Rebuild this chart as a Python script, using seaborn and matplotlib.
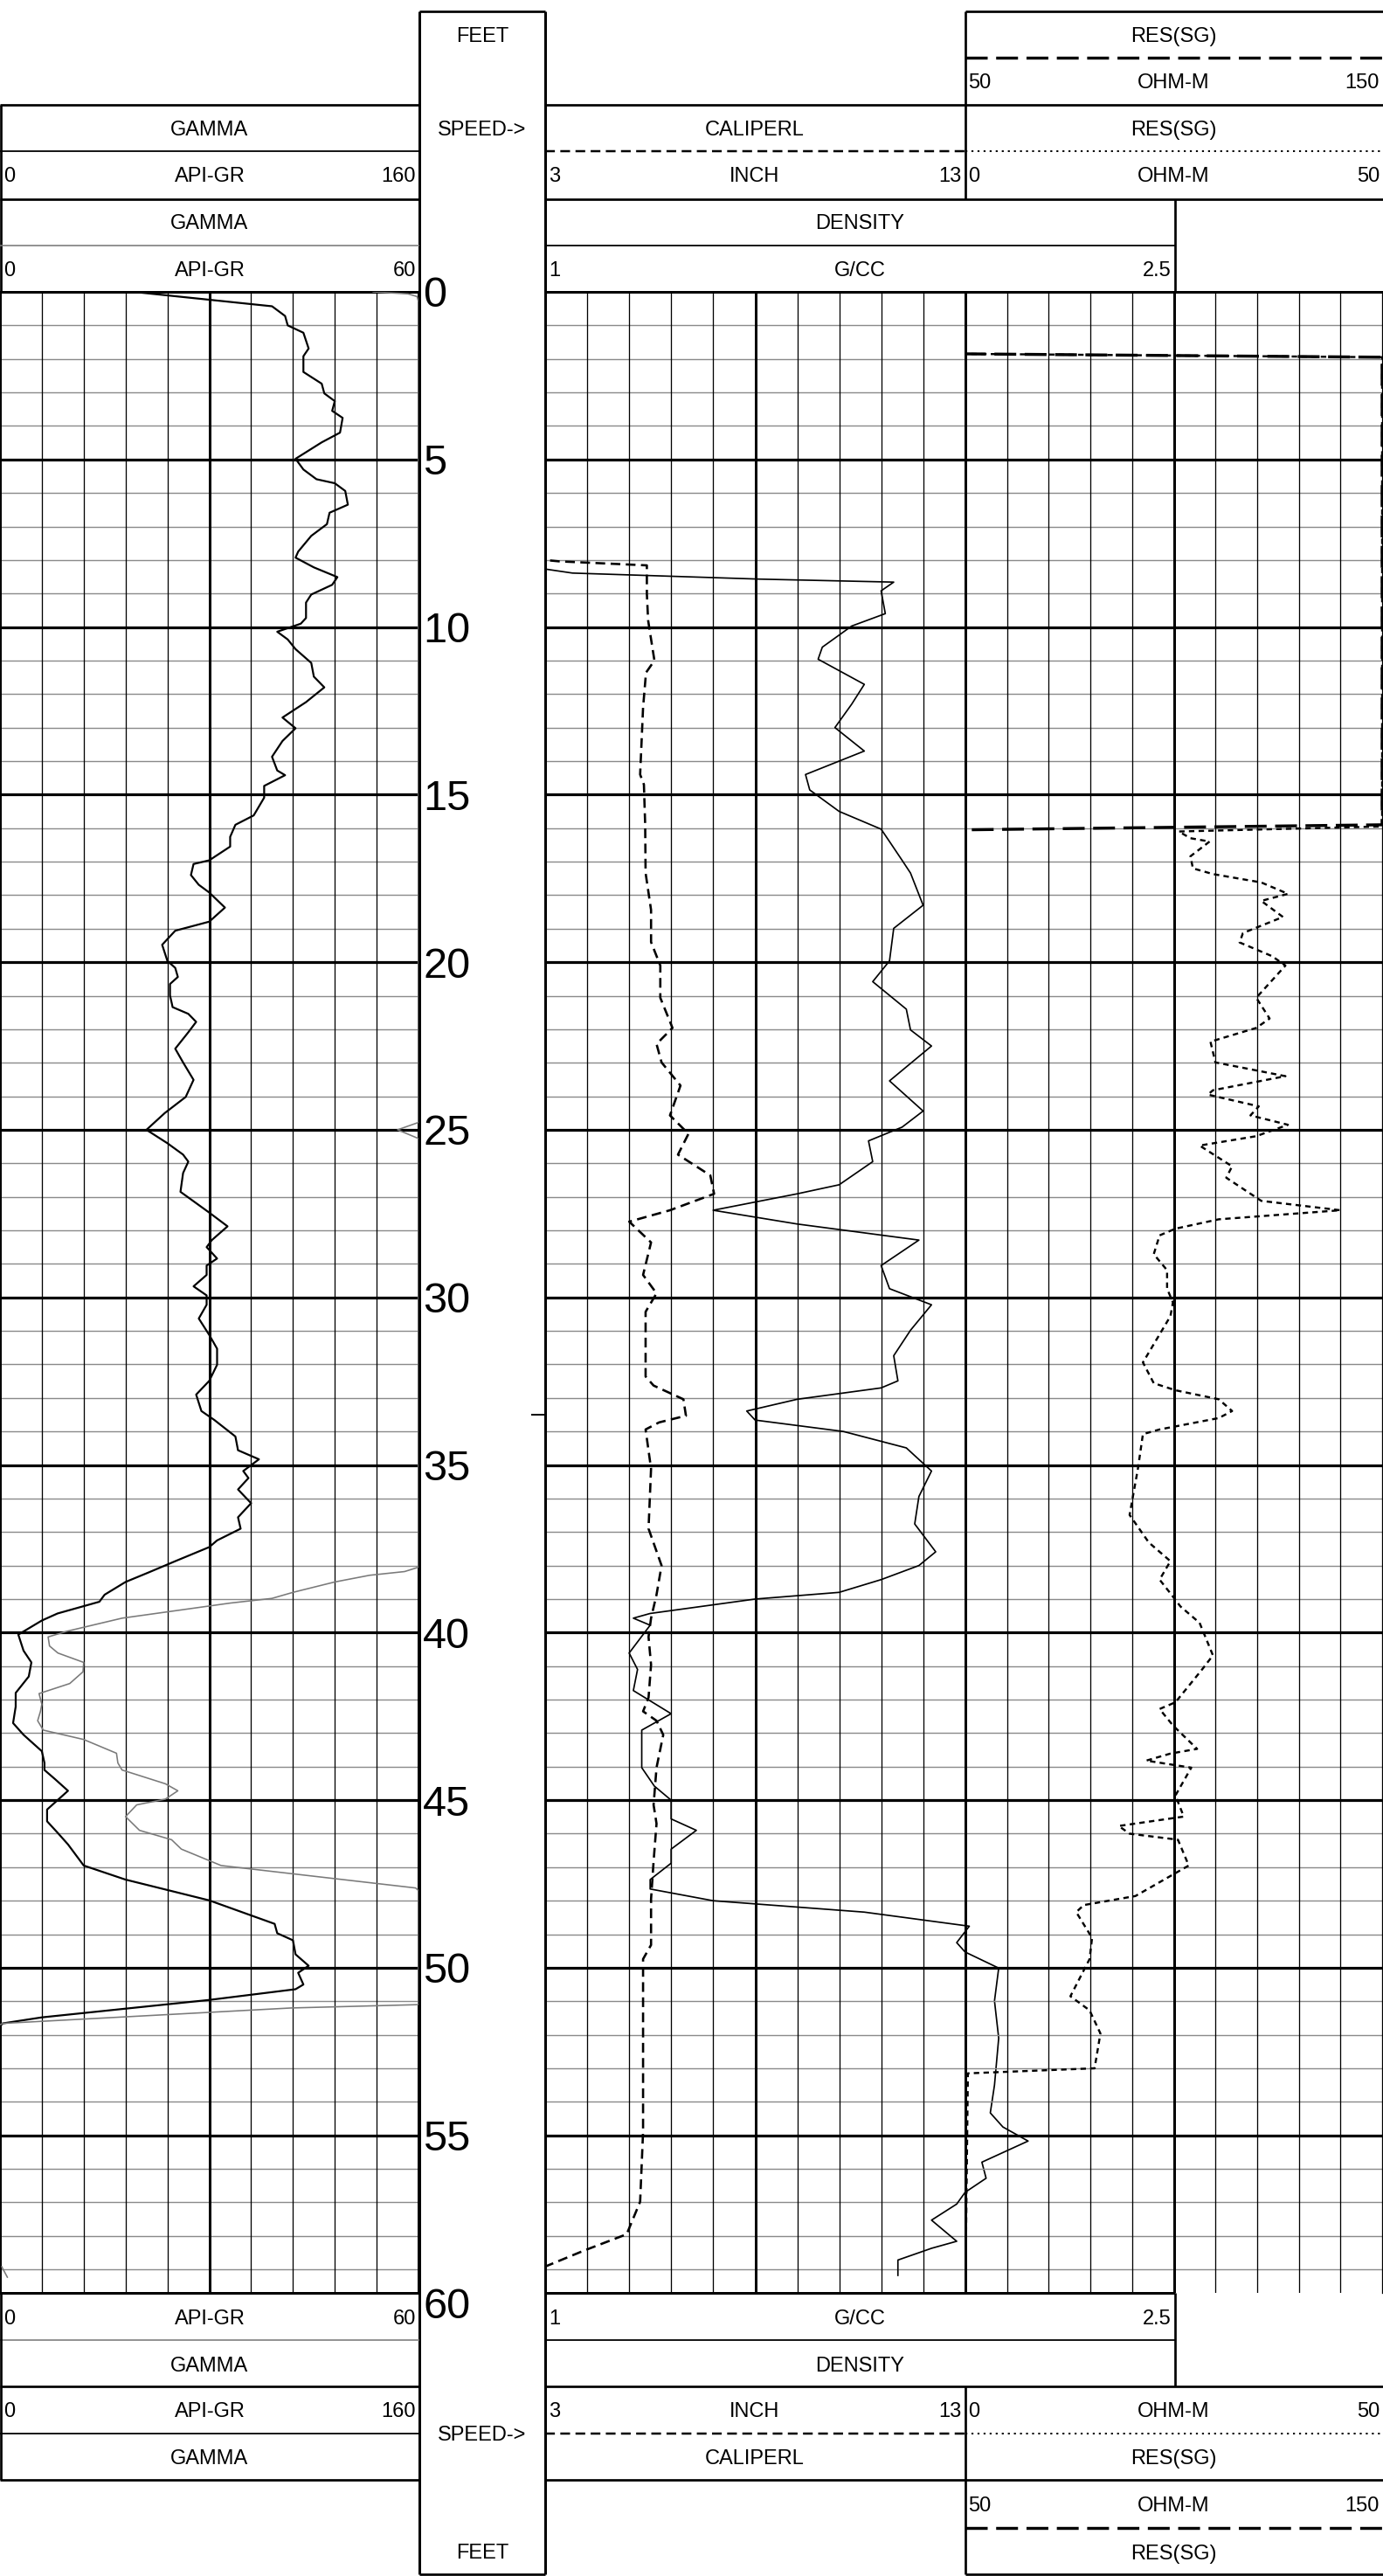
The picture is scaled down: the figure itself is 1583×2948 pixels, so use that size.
import numpy as np
import pandas as pd
import matplotlib
matplotlib.use("Agg")
import matplotlib.pyplot as plt
import matplotlib.transforms as mtransforms
import seaborn as sns

# ------------------------------------------------------------------ data
# depth grid labels
depth_labels = [0, 5, 10, 15, 20, 25, 30, 35, 40, 45, 50, 55, 60]
marker_depth = [33.5]

# GAMMA (API-GR, 0-160 scale), black solid
gr_depth = [0.0, 0.43, 0.72, 1.0, 1.22, 1.69, 1.92, 2.39, 2.74, 3.03, 3.26, 3.55, 3.76, 4.2, 4.49,
            4.98, 5.3, 5.59, 5.71, 5.94, 6.35, 6.59, 6.93, 7.28, 7.75, 7.93, 8.22, 8.51, 8.74, 9.03,
            9.27, 9.73, 9.9, 10.14, 10.37, 10.66, 11.07, 11.48, 11.8, 12.24, 12.7, 13.02, 13.4, 13.87,
            14.28, 14.42, 14.74, 15.09, 15.62, 15.9, 16.26, 16.55, 16.96, 17.07, 17.4, 17.69, 17.92,
            18.37, 18.79, 19.06, 19.48, 19.96, 20.17, 20.44, 20.65, 20.99, 21.34, 21.54, 21.78, 22.09,
            22.58, 22.99, 23.51, 24.02, 24.5, 25.0, 25.4, 25.74, 25.95, 26.29, 26.85, 27.47, 27.88,
            28.29, 28.5, 28.84, 29.05, 29.33, 29.67, 29.94, 30.22, 30.63, 31.12, 31.53, 32.01, 32.49,
            32.9, 33.39, 33.66, 34.15, 34.56, 34.83, 35.18, 35.39, 35.73, 36.14, 36.56, 36.9, 37.25,
            37.45, 37.87, 38.2, 38.49, 38.87, 39.08, 39.43, 39.64, 40.06, 40.54, 40.89, 41.31, 41.8,
            42.21, 42.7, 43.05, 43.54, 43.89, 44.1, 44.37, 44.72, 45.0, 45.28, 45.63, 45.97, 46.32,
            46.95, 47.37, 47.99, 48.69, 48.97, 49.18, 49.6, 49.94, 50.15, 50.5, 50.64, 50.96, 51.48,
            51.66, 51.75]
gr_api = [51, 104, 109, 110, 116, 118, 116, 116, 123, 124, 128, 127, 131, 130, 123,
          113, 116, 121, 128, 132, 133, 126, 125, 119, 114, 113, 120, 129, 127, 119,
          117, 117, 115, 106, 110, 113, 119, 120, 124, 117, 108, 113, 108, 104,
          106, 109, 101, 101, 97, 90, 88, 88, 80, 74, 73, 76, 80,
          86, 80, 67, 62, 64, 67, 68, 65, 65, 66, 72, 75, 72,
          67, 70, 74, 71, 63, 56, 64, 70, 72, 70, 69, 80, 87,
          81, 79, 83, 79, 79, 74, 79, 79, 76, 80, 83, 83, 80,
          75, 77, 82, 90, 91, 99, 93, 95, 91, 96, 91, 92, 83,
          80, 67, 57, 48, 40, 38, 22, 16, 7, 9, 12, 11, 6,
          6, 5, 9, 16, 17, 17, 21, 26, 22, 18, 18, 22, 26,
          32, 48, 80, 105, 106, 112, 113, 118, 114, 116, 113, 80, 16,
          1, 0]

# GAMMA (API-GR, 0-60 scale), grey solid (pinned to 60 where off scale)
gr2_depth = [0.0, 0.06, 0.14, 0.3, 24.78, 25.0, 25.26, 25.4, 38.05, 38.18, 38.29, 38.49, 38.8, 38.98,
             39.12, 39.57, 39.96, 40.13, 40.4, 40.61, 40.89, 41.17, 41.52, 41.82, 42.14, 42.35, 42.63,
             42.91, 43.19, 43.6, 43.89, 44.1, 44.51, 44.72, 44.97, 45.14, 45.49, 45.9, 46.18, 46.46,
             46.95, 47.62, 47.7, 51.1, 51.2, 51.66, 51.7,
             58.9, 59.25]
gr2_api = [53.4, 58.5, 59.8, 60, 60, 57, 60, 60, 60, 58, 53, 48, 42, 39,
           33, 17.5, 9.6, 6.9, 7.1, 8.3, 12, 11.9, 10, 5.6, 6, 5.8, 5.4,
           6.2, 12, 16.7, 16.9, 17.5, 23.7, 25.5, 23.7, 19.6, 18, 20, 24.6, 26,
           31.7, 59.6, 60, 60, 41.7, 0.4, 0,
           0.2, 1.1]
gr2_seg = [0] * 47 + [1, 1]

# CALIPERL (INCH, 3-13), dashed
cal_depth = [0.0, 8.0, 8.04, 8.16, 9.0, 9.8, 11.0, 11.36, 12.4, 14.4, 14.7, 15.9, 17.34, 18.44, 19.4,
             20.1, 21.06, 21.96, 22.44, 22.99, 23.68, 24.57, 25.12, 25.74, 26.36, 26.91, 27.4, 27.74,
             28.36, 29.33, 29.88, 30.43, 32.36, 32.63, 33.04, 33.53, 33.73, 33.94, 35.11, 36.9, 38.0,
             38.87, 39.57, 40.13, 40.96, 41.94, 42.35, 42.63, 43.05, 44.03, 45.14, 45.7, 46.83, 47.95,
             49.32, 49.74, 54.89, 56.98, 57.95, 58.44, 58.9, 59.2]
cal_in = [3.0, 3.0, 3.33, 5.42, 5.42, 5.45, 5.6, 5.4, 5.33, 5.26, 5.35, 5.38, 5.39, 5.52, 5.52,
          5.74, 5.74, 6.03, 5.65, 5.77, 6.22, 5.97, 6.41, 6.16, 6.93, 7.02, 5.97, 5.0,
          5.52, 5.33, 5.65, 5.39, 5.39, 5.58, 6.29, 6.35, 5.71, 5.39, 5.52, 5.46, 5.77,
          5.65, 5.52, 5.46, 5.52, 5.46, 5.33, 5.65, 5.81, 5.65, 5.58, 5.65, 5.58, 5.52,
          5.52, 5.33, 5.33, 5.26, 4.94, 3.92, 3.03, 2.6]

# DENSITY (G/CC, 1-2.5), solid
den_depth = [0.0, 8.27, 8.39, 8.57, 8.66, 8.92, 9.6, 9.97, 10.6, 10.96, 11.71, 12.3, 13.0, 13.7, 14.4,
             14.86, 15.5, 16.03, 16.4, 16.96, 17.34, 18.3, 18.99, 19.96, 20.58, 21.4, 22.02, 22.5,
             23.54, 24.44, 24.92, 25.33, 25.95, 26.64, 26.91, 27.4, 27.81, 28.29, 29.05, 29.74, 30.22,
             30.98, 31.74, 32.49, 32.7, 33.04, 33.39, 33.66, 34.0, 34.49, 35.18, 35.94, 36.76, 37.59,
             38.0, 38.42, 38.8, 39.0, 39.43, 39.57, 39.78, 40.61, 41.1, 41.73, 42.42, 42.91, 44.03,
             44.58, 45.0, 45.56, 45.9, 46.46, 46.88, 47.37, 47.65, 48.0, 48.34, 48.76, 49.25, 49.53,
             50.01, 50.99, 52.1, 53.5, 54.33, 54.75, 55.17, 55.8, 56.28, 56.7, 57.05, 57.53, 58.16,
             58.37, 58.72, 59.2]
den_gcc = [1.0, 1.0, 1.065, 1.51, 1.83, 1.80, 1.81, 1.73, 1.66, 1.65, 1.76, 1.73, 1.69, 1.76, 1.62,
           1.63, 1.70, 1.80, 1.82, 1.85, 1.87, 1.90, 1.83, 1.82, 1.78, 1.86, 1.87, 1.92,
           1.82, 1.90, 1.85, 1.77, 1.78, 1.70, 1.60, 1.40, 1.60, 1.89, 1.80, 1.82, 1.92,
           1.87, 1.83, 1.84, 1.80, 1.60, 1.48, 1.50, 1.71, 1.86, 1.92, 1.89, 1.88, 1.93,
           1.89, 1.80, 1.70, 1.50, 1.25, 1.21, 1.25, 1.20, 1.22, 1.21, 1.30, 1.23, 1.23,
           1.26, 1.30, 1.30, 1.36, 1.30, 1.30, 1.25, 1.25, 1.40, 1.76, 2.01, 1.98, 2.00,
           2.08, 2.07, 2.08, 2.07, 2.06, 2.09, 2.15, 2.04, 2.05, 2.00, 1.98, 1.92, 1.98,
           1.92, 1.84, 1.84]

# RES(SG) (OHM-M, 0-50), dotted
res_depth = [0.0, 1.85, 1.95, 15.95, 16.1, 16.3, 16.4, 16.84, 17.2, 17.37, 17.62, 17.96, 18.17, 18.65,
             19.13, 19.41, 19.82, 20.1, 21.06, 21.68, 21.96, 22.37, 22.99, 23.13, 23.4, 23.82, 23.95,
             24.3, 24.57, 24.85, 25.19, 25.47, 26.09, 26.43, 27.12, 27.4, 27.67, 27.95, 28.15, 28.71,
             29.19, 29.74, 30.15, 30.56, 31.94, 32.56, 32.77, 33.04, 33.39, 33.6, 33.94, 34.08, 35.11,
             36.49, 37.31, 37.87, 38.42, 38.83, 39.22, 39.71, 40.68, 41.1, 42.08, 42.28, 42.77, 43.47,
             43.61, 43.82, 44.03, 44.86, 45.49, 45.77, 46.0, 46.18, 46.95, 47.86, 48.13, 48.34, 49.11,
             49.74, 50.85, 51.27, 51.96, 53.0, 53.15, 59.7]
res_ohm = [0, 0, 50, 50, 25.6, 27, 29.3, 27, 27.3, 29.7, 35.5, 38.7, 35.5, 38.1,
           33.3, 32.9, 36.8, 38.4, 34.9, 36.5, 34.9, 29.4, 30.0, 32.9, 38.4, 29.7, 29.1,
           35.2, 34.2, 38.7, 34.9, 28.1, 32.0, 31.3, 35.5, 45.0, 30.4, 25.2, 23.3, 22.6,
           24.2, 24.2, 24.9, 24.6, 21.3, 22.6, 25.2, 30.4, 32.0, 30.4, 23.3, 21.3, 20.7,
           19.7, 22.0, 24.6, 23.3, 24.6, 25.8, 28.1, 29.7, 28.4, 25.2, 23.3, 24.9, 27.8,
           24.6, 21.7, 27.1, 25.2, 26.2, 18.4, 19.7, 25.5, 26.8, 20.4, 14.2, 13.3, 15.2,
           14.9, 12.6, 14.9, 16.2, 15.5, 0.3, 0]

# RES(SG) (OHM-M, 50-150), long dashed (pinned at the scale ends)
res2_depth = [0.0, 1.85, 1.95, 15.9, 16.05, 59.7]
res2_ohm = [50, 50, 150, 150, 50, 50]

# ------------------------------------------------------------------ style
sns.set_theme(style="white")
plt.rcParams["font.family"] = ["Liberation Sans", "DejaVu Sans"]
plt.rcParams["lines.scale_dashes"] = False
plt.rcParams["lines.solid_capstyle"] = "butt"
plt.rcParams["lines.dash_capstyle"] = "butt"

W, H, DPI = 1583, 2948, 100
PX = 72.0 / DPI
GRID_TOP, GRID_BOT = 334, 2624
DMAX = 59.7
CAP = 0.716  # cap/digit height as fraction of em (Liberation Sans)

fig = plt.figure(figsize=(W / DPI, H / DPI), dpi=DPI)
fig.patch.set_facecolor("white")


def px_axes(x0, x1, y0=GRID_TOP, y1=GRID_BOT):
    ax = fig.add_axes([x0 / W, 1 - y1 / H, (x1 - x0) / W, (y1 - y0) / H])
    ax.set_facecolor("none")
    return ax


def finish(ax, xlim):
    ax.set_xlim(*xlim)
    ax.set_ylim(DMAX, 0)
    ax.set_xticks([])
    ax.set_yticks([])
    ax.set_xlabel("")
    ax.set_ylabel("")


def grid_track(ax, xlim, thin, heavy):
    for d in range(1, 60):
        if d % 5 == 0:
            ax.axhline(d, color="black", lw=3.2 * PX, zorder=1)
        else:
            ax.axhline(d, color="#8a8a8a", lw=1.4 * PX, zorder=1)
    for v in thin:
        ax.axvline(v, color="black", lw=1.3 * PX, zorder=1.1)
    for v in heavy:
        ax.axvline(v, color="black", lw=3.0 * PX, zorder=1.1)
    for s in ax.spines.values():
        s.set_visible(True)
        s.set_color("black")
        s.set_linewidth(3.0 * PX)
    finish(ax, xlim)


def curve(ax, depth, vals, color, lw, dashes=None, units=None, xlim=None):
    df = pd.DataFrame({"depth": depth, "val": vals,
                       "seg": units if units is not None else [0] * len(depth)})
    n0 = len(ax.lines)
    sns.lineplot(data=df, x="val", y="depth", units="seg", estimator=None, sort=False,
                 ax=ax, color=color, lw=lw * PX, legend=False, zorder=3)
    for ln in ax.lines[n0:]:
        if dashes is not None:
            ln.set_dashes(dashes)
    finish(ax, xlim)


def overlay_axes(x0, x1):
    ax = px_axes(x0, x1)
    ax.axis("off")
    return ax


# ---- gamma track
ax_gr = px_axes(0, 479)
grid_track(ax_gr, (0, 160), [16, 32, 48, 64, 96, 112, 128, 144], [80])
ax_gr2 = overlay_axes(0, 479)
curve(ax_gr2, gr2_depth, gr2_api, "#7a7a7a", 1.6, units=gr2_seg, xlim=(0, 60))
curve(ax_gr, gr_depth, gr_api, "black", 2.2, xlim=(0, 160))

# ---- caliper / density track
ax_cal = px_axes(624, 1105)
grid_track(ax_cal, (3, 13), [4, 5, 6, 7, 9, 10, 11, 12], [8])
curve(ax_cal, cal_depth, cal_in, "black", 2.6, dashes=(8, 4.5), xlim=(3, 13))
ax_den = overlay_axes(624, 1345)
curve(ax_den, den_depth, den_gcc, "black", 1.7, xlim=(1, 2.5))

# ---- resistivity track
ax_res = px_axes(1105, 1582)
grid_track(ax_res, (0, 50), [5, 10, 15, 20, 30, 35, 40, 45], [25])
ax_res.spines["bottom"].set_visible(False)
ax_res.spines["right"].set_linewidth(1.3 * PX)
curve(ax_res, res_depth, res_ohm, "black", 2.4, dashes=(4.5, 3.5), xlim=(0, 50))
ax_res2 = overlay_axes(1105, 1582)
curve(ax_res2, res2_depth, res2_ohm, "black", 3.4, dashes=(18, 7), xlim=(50, 150))

# ---- depth track
DEP_FS = 35
ax_dep = overlay_axes(479, 624)
ax_dep.set_xlim(0, 1)
ax_dep.set_ylim(DMAX, 0)
dep_tr = mtransforms.offset_copy(ax_dep.transData, fig=fig,
                                 y=-CAP * DEP_FS / 72.0 * DPI / 2.0, units="dots")
for d in depth_labels:
    ax_dep.text(0.035, d, str(d), ha="left", va="baseline", fontsize=DEP_FS, color="black",
                clip_on=False, transform=dep_tr)
for d in marker_depth:
    ax_dep.plot([0.89, 1.0], [d, d], color="black", lw=2 * PX)

# ------------------------------------------------------------------ headers
ax_o = fig.add_axes([0, 0, 1, 1])
ax_o.set_xlim(0, W)
ax_o.set_ylim(H, 0)
ax_o.axis("off")
ax_o.patch.set_alpha(0)

HDR_FS = 17
hdr_tr = mtransforms.offset_copy(ax_o.transData, fig=fig,
                                 y=-CAP * HDR_FS / 72.0 * DPI / 2.0, units="dots")


def hl(y, x0, x1, lw=2.7, color="black", dashes=None):
    ln, = ax_o.plot([x0, x1], [y, y], color=color, lw=lw * PX)
    if dashes is not None:
        ln.set_dashes(dashes)


def vl(x, y0, y1, lw=2.7, color="black"):
    ax_o.plot([x, x], [y0, y1], color=color, lw=lw * PX)


def tx(x, y, s, ha="center", size=HDR_FS):
    ax_o.text(x, y, s, ha=ha, va="baseline", fontsize=size, color="black", transform=hdr_tr)


CAL_D = (8, 4.5)
RES_DOT = (1.6, 3.4)
RES_LONG = (18, 7)
GREY = "#7a7a7a"

# depth (FEET) column
vl(480, 13, 2946, lw=3)
vl(624, 13, 2946, lw=3)
hl(13, 480, 624)
hl(2946, 480, 624)
tx(552, 40, "FEET")
tx(552, 147, "SPEED->")
tx(552, 2785, "SPEED->")
tx(552, 2920, "FEET")

# top left (gamma)
hl(120, 0, 480)
hl(228, 0, 480)
vl(1.5, 120, 334)
hl(173, 0, 480, lw=1.8)
hl(281, 0, 480, lw=1.6, color=GREY)
tx(240, 147, "GAMMA")
tx(4, 200, "0", ha="left"); tx(240, 200, "API-GR"); tx(476, 200, "160", ha="right")
tx(240, 254, "GAMMA")
tx(4, 308, "0", ha="left"); tx(240, 308, "API-GR"); tx(476, 308, "60", ha="right")

# top middle / right
hl(13, 1105, W)
vl(1105, 13, 228)
hl(120, 624, W)
hl(228, 624, W)
hl(66, 1105, W, lw=3.4, dashes=RES_LONG)
hl(173, 624, 1105, lw=2.5, dashes=CAL_D)
hl(173, 1105, W, lw=2.0, dashes=RES_DOT)
hl(281, 624, 1345, lw=1.8)
vl(1345, 228, 334)
tx(1343, 40, "RES(SG)")
tx(1108, 93, "50", ha="left"); tx(1343, 93, "OHM-M"); tx(1579, 93, "150", ha="right")
tx(864, 147, "CALIPERL")
tx(1343, 147, "RES(SG)")
tx(628, 200, "3", ha="left"); tx(864, 200, "INCH"); tx(1101, 200, "13", ha="right")
tx(1108, 200, "0", ha="left"); tx(1343, 200, "OHM-M"); tx(1579, 200, "50", ha="right")
tx(984, 254, "DENSITY")
tx(628, 308, "1", ha="left"); tx(984, 308, "G/CC"); tx(1341, 308, "2.5", ha="right")

# bottom left (gamma)
hl(2678, 0, 480, lw=1.6, color=GREY)
hl(2731, 0, 480)
hl(2785, 0, 480, lw=1.8)
hl(2838, 0, 480)
vl(1.5, 2624, 2838)
tx(4, 2652, "0", ha="left"); tx(240, 2652, "API-GR"); tx(476, 2652, "60", ha="right")
tx(240, 2706, "GAMMA")
tx(4, 2758, "0", ha="left"); tx(240, 2758, "API-GR"); tx(476, 2758, "160", ha="right")
tx(240, 2812, "GAMMA")

# bottom middle / right
hl(2624, 624, 1345, lw=3)
vl(1345, 2624, 2731)
hl(2678, 624, 1345, lw=1.8)
hl(2731, 624, W)
hl(2785, 624, 1105, lw=2.5, dashes=CAL_D)
hl(2785, 1105, W, lw=2.0, dashes=RES_DOT)
hl(2838, 624, W)
vl(1105, 2731, 2946)
hl(2893, 1105, W, lw=3.4, dashes=RES_LONG)
hl(2946, 1105, W)
tx(628, 2652, "1", ha="left"); tx(984, 2652, "G/CC"); tx(1341, 2652, "2.5", ha="right")
tx(984, 2706, "DENSITY")
tx(628, 2758, "3", ha="left"); tx(864, 2758, "INCH"); tx(1101, 2758, "13", ha="right")
tx(1108, 2758, "0", ha="left"); tx(1343, 2758, "OHM-M"); tx(1579, 2758, "50", ha="right")
tx(864, 2812, "CALIPERL")
tx(1343, 2812, "RES(SG)")
tx(1108, 2866, "50", ha="left"); tx(1343, 2866, "OHM-M"); tx(1579, 2866, "150", ha="right")
tx(1343, 2921, "RES(SG)")

fig.savefig("out.png", dpi=DPI, facecolor="white")
